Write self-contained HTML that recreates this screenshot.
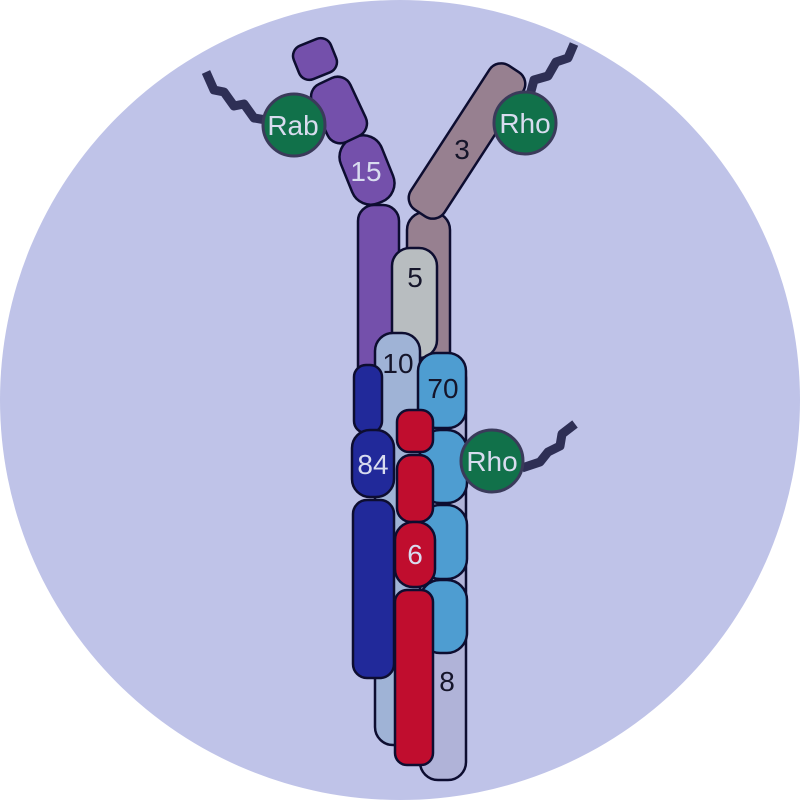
<!DOCTYPE html>
<html><head><style>body{margin:0;background:#fff}svg{display:block}text{font-family:"Liberation Sans",sans-serif;font-size:28px;text-anchor:middle}</style></head><body>
<svg width="800" height="800" viewBox="0 0 800 800">
<circle cx="400" cy="400" r="400" fill="#bfc3e8"/>
<g fill="none" stroke="#2e2f55" stroke-width="9" stroke-linejoin="round">
<path d="M206 72 L214 90 L224 92 L234 106 L244 104 L254 118 L266 120"/>
<path d="M530 95 L534 80 L548 76 L556 62 L568 58 L574 44"/>
<path d="M522 468 L540 462 L548 452 L560 446 L562 434 L575 424"/>
</g>
<g stroke="#0d0d30" stroke-width="2.5">
<rect x="420" y="360" width="46" height="420" rx="18" fill="#b0b3d8"/>
<rect x="407" y="212" width="43" height="200" rx="18" fill="#978090"/>
<rect x="447" y="55" width="40" height="172" rx="14" fill="#978090" transform="rotate(33 467 141)"/>
<rect x="358" y="205" width="41" height="200" rx="16" fill="#7450ab"/>
<rect x="345" y="135" width="44" height="70" rx="20" fill="#7450ab" transform="rotate(-22 367 170)"/>
<rect x="318" y="78" width="42" height="64" rx="14" fill="#7450ab" transform="rotate(-25 339 110)"/>
<rect x="295" y="41" width="40" height="36" rx="11" fill="#7450ab" transform="rotate(-22 315 59)"/>
<rect x="392" y="248" width="45" height="110" rx="18" fill="#b8bdc0"/>
<rect x="375" y="333" width="45" height="412" rx="18" fill="#9fb3d6"/>
<rect x="354" y="365" width="28" height="68" rx="12" fill="#21299a"/>
<rect x="352" y="430" width="42" height="67" rx="18" fill="#21299a"/>
<rect x="353" y="500" width="41" height="178" rx="14" fill="#21299a"/>
<rect x="418" y="353" width="48" height="75" rx="18" fill="#4e9dd1"/>
<rect x="420" y="430" width="47" height="73" rx="20" fill="#4e9dd1"/>
<rect x="420" y="505" width="47" height="74" rx="20" fill="#4e9dd1"/>
<rect x="420" y="580" width="47" height="73" rx="20" fill="#4e9dd1"/>
<rect x="397" y="410" width="36" height="42" rx="12" fill="#c00d2e"/>
<rect x="397" y="455" width="36" height="67" rx="14" fill="#c00d2e"/>
<rect x="395" y="522" width="40" height="65" rx="18" fill="#c00d2e"/>
<rect x="395" y="590" width="38" height="175" rx="12" fill="#c00d2e"/>
<circle cx="294" cy="125" r="31" fill="#11714a" stroke="#3a3a5a" stroke-width="3"/>
<circle cx="525" cy="123" r="31" fill="#11714a" stroke="#3a3a5a" stroke-width="3"/>
<circle cx="492" cy="461" r="31" fill="#11714a" stroke="#3a3a5a" stroke-width="3"/>
</g>
<g>
<text x="293" y="135" fill="#d8dcef">Rab</text>
<text x="525" y="133" fill="#d8dcef">Rho</text>
<text x="492" y="471" fill="#d8dcef">Rho</text>
<text x="366" y="181" fill="#d8dcef">15</text>
<text x="462" y="159" fill="#15152a">3</text>
<text x="415" y="287" fill="#15152a">5</text>
<text x="398" y="373" fill="#15152a">10</text>
<text x="443" y="398" fill="#15152a">70</text>
<text x="373" y="474" fill="#d8dcef">84</text>
<text x="415" y="564" fill="#d8dcef">6</text>
<text x="447" y="691" fill="#15152a">8</text>
</g>
</svg>
</body></html>
